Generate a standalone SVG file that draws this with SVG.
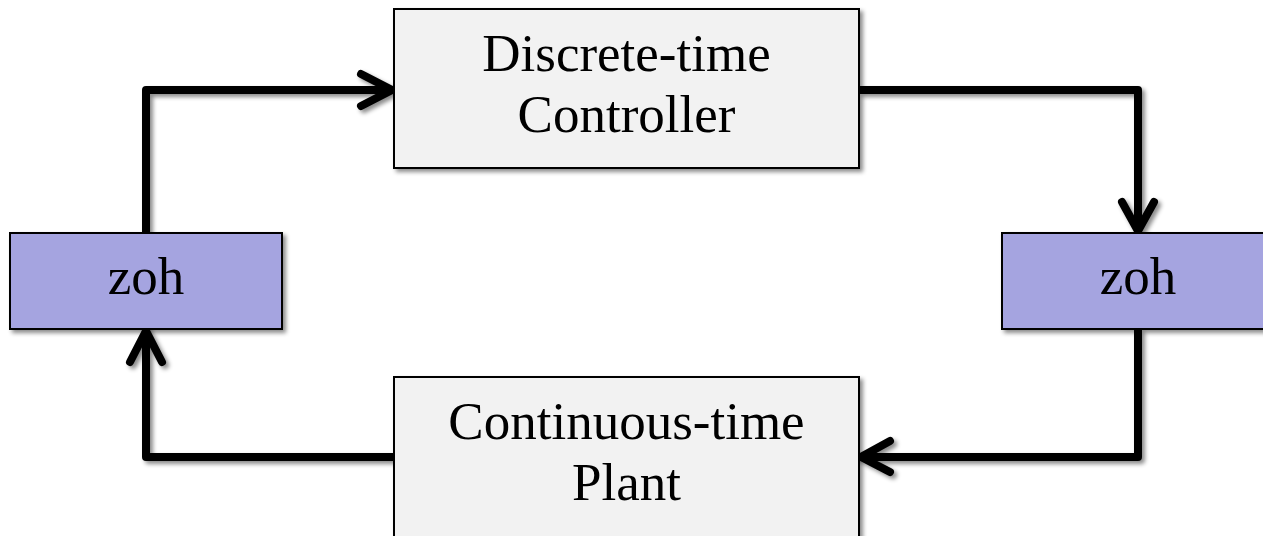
<svg xmlns="http://www.w3.org/2000/svg" width="1263" height="536" viewBox="0 0 1263 536">
  <style>
    .box { fill: #f2f2f2; stroke: #000; stroke-width: 2; }
    .zoh { fill: #a5a4e0; stroke: #000; stroke-width: 2; }
    .label { font-family: "Liberation Serif", "Times New Roman", serif; font-size: 53px; fill: #000; text-anchor: middle; }
    .wire { fill: none; stroke: #000; stroke-width: 8; stroke-linejoin: round; stroke-linecap: butt; }
    .head { fill: none; stroke: #000; stroke-width: 8; stroke-linejoin: miter; stroke-linecap: round; }
  </style>
  <defs>
    <filter id="shadow" x="-10%" y="-10%" width="130%" height="130%">
      <feDropShadow dx="3" dy="3" stdDeviation="2" flood-color="#000" flood-opacity="0.45"/>
    </filter>
  </defs>

  <rect width="1263" height="536" fill="#fff"/>

  <!-- connectors -->
  <g id="connectors" filter="url(#shadow)">
    <!-- left zoh to controller -->
    <path class="wire" d="M146 233 V90 H390"/>
    <path class="head" d="M361 74 L392 90 L361 106"/>
    <!-- controller to right zoh -->
    <path class="wire" d="M859 90 H1138 V229"/>
    <path class="head" d="M1122 202 L1138 231 L1154 202"/>
    <!-- right zoh to plant -->
    <path class="wire" d="M1138 329 V457 H863"/>
    <path class="head" d="M890 441 L861 457 L890 472"/>
    <!-- plant to left zoh -->
    <path class="wire" d="M394 457 H146 V333"/>
    <path class="head" d="M130 362 L146 331 L162 362"/>
  </g>

  <g id="controller" filter="url(#shadow)">
    <rect class="box" x="394" y="9" width="465" height="159"/>
    <text class="label" x="626.5" y="71">Discrete-time</text>
    <text class="label" x="626.5" y="132">Controller</text>
  </g>

  <g id="zoh-left" filter="url(#shadow)">
    <rect class="zoh" x="10" y="233" width="272" height="96"/>
    <text class="label" x="146" y="294">zoh</text>
  </g>

  <g id="zoh-right" filter="url(#shadow)">
    <rect class="zoh" x="1002" y="233" width="272" height="96"/>
    <text class="label" x="1138" y="294">zoh</text>
  </g>

  <g id="plant" filter="url(#shadow)">
    <rect class="box" x="394" y="377" width="465" height="170"/>
    <text class="label" x="626.5" y="439">Continuous-time</text>
    <text class="label" x="626.5" y="500">Plant</text>
  </g>
</svg>
